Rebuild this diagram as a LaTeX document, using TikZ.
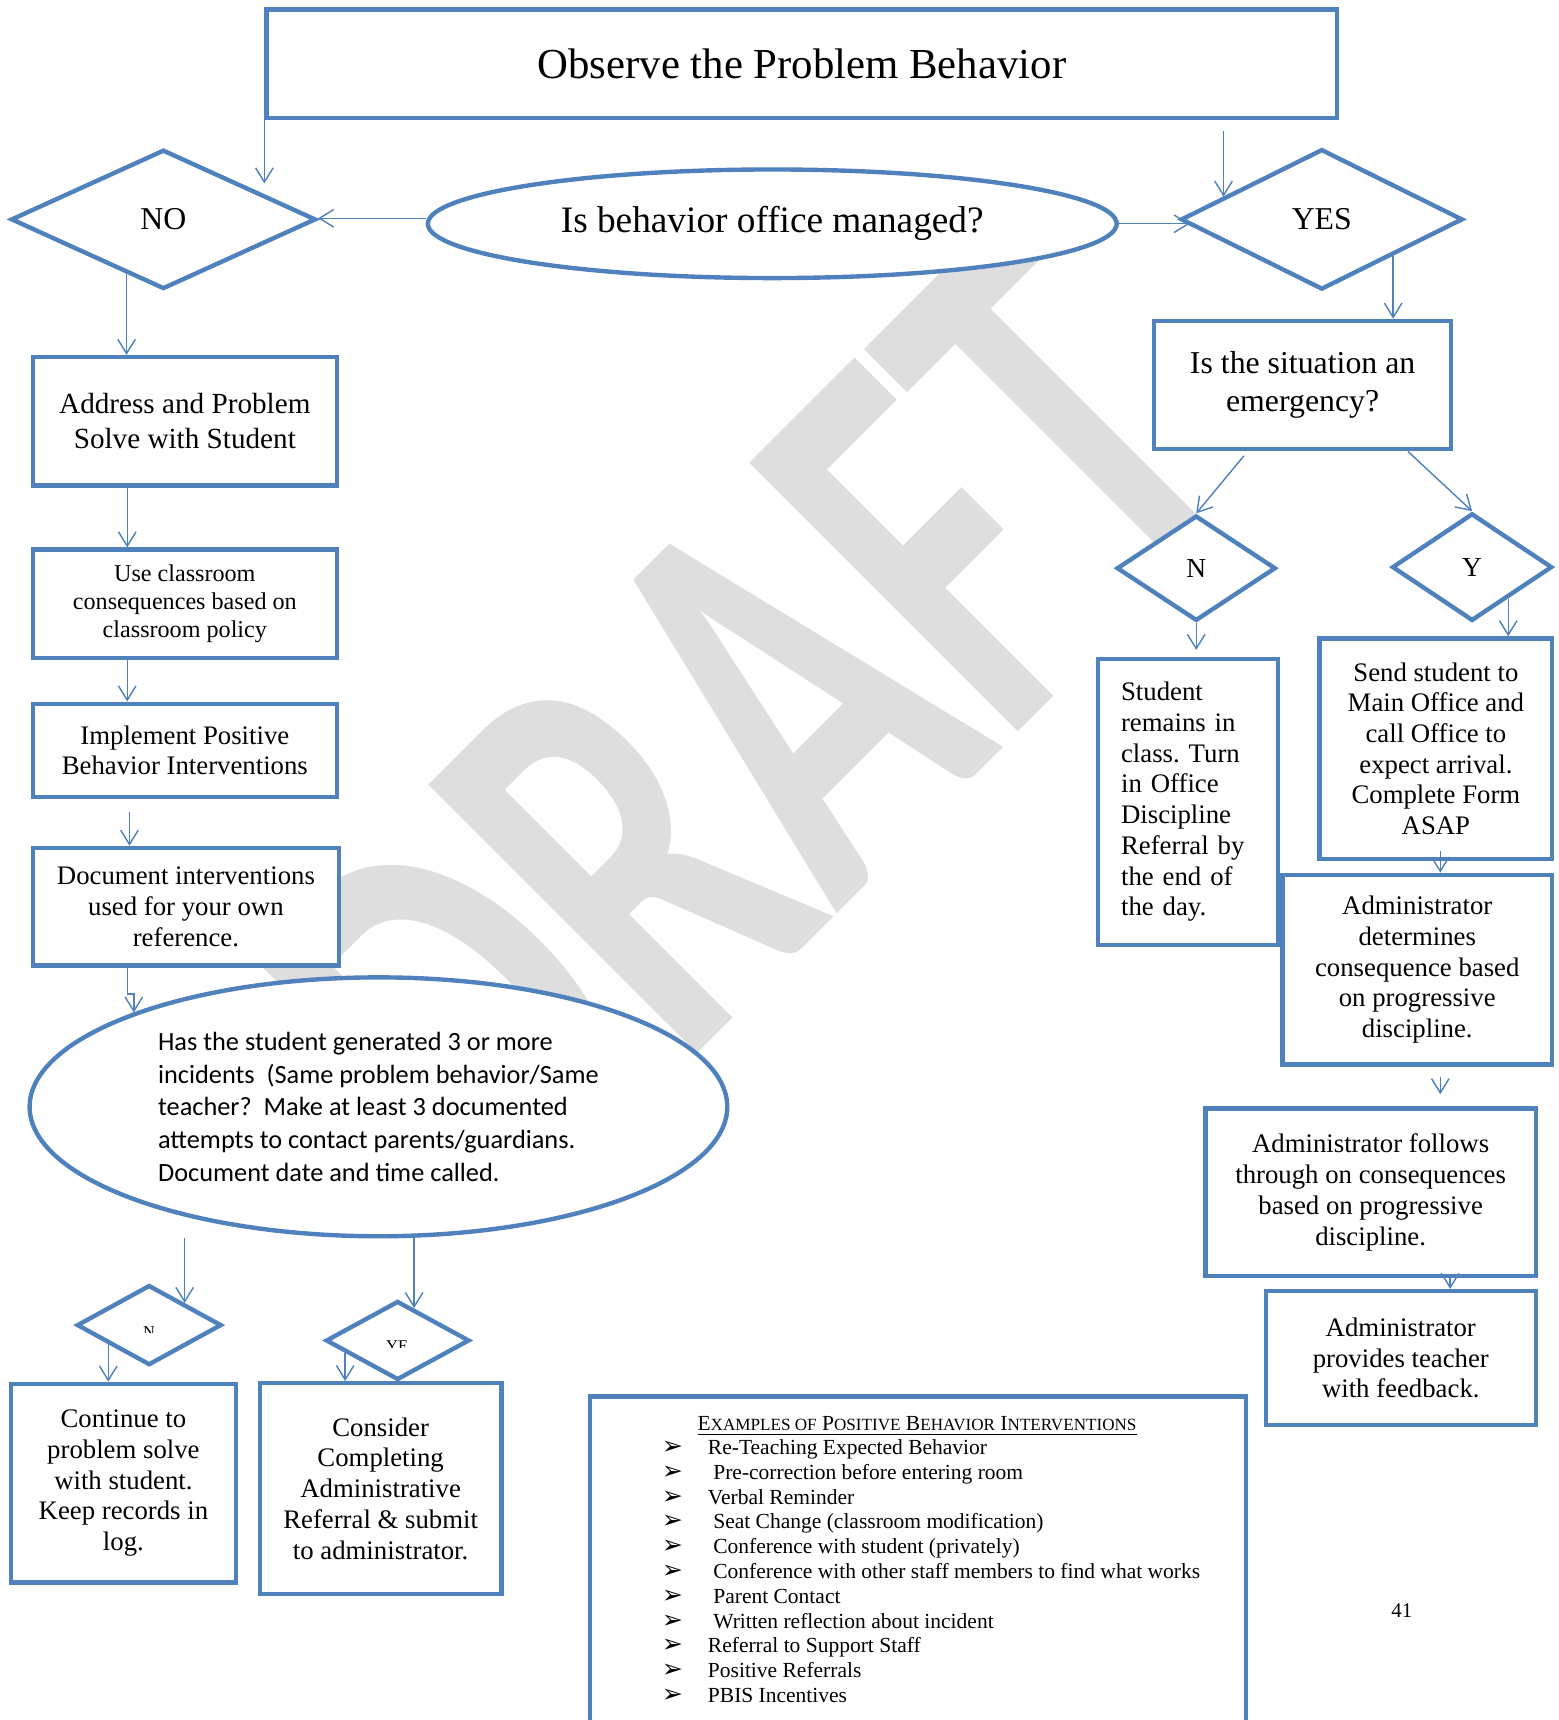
\documentclass[tikz,border=0pt]{standalone}
\usepackage{fontspec}
\setmainfont{Liberation Serif}
\newfontfamily\calfont{Carlito}
\newfontfamily\symfont{DejaVu Sans}
\usetikzlibrary{shapes.geometric,arrows.meta,calc}
\definecolor{flowblue}{RGB}{79,129,189}
\definecolor{wmgray}{RGB}{222,222,222}
\newcommand{\setfs}[2]{\fontsize{#1}{#2}\selectfont}
\newcommand{\smc}[1]{{\fontsize{7.8}{9}\selectfont #1}}
\newcommand{\bul}{\makebox[21pt][l]{\symfont\fontsize{11.5}{9}\selectfont ➢}}
\frenchspacing

\begin{document}
\begin{tikzpicture}[x=0.5pt, y=-0.5pt,
  box/.style={draw=flowblue, line width=2pt, fill=white, align=center, inner sep=2pt},
  dia/.style={diamond, draw=flowblue, line width=2pt, fill=white, inner sep=0pt},
  oval/.style={ellipse, draw=flowblue, line width=2pt, fill=white, inner sep=0pt},
  arr/.style={draw=flowblue, line width=0.65pt, -{Straight Barb[length=6.5pt,width=8pt]}},
  wmark/.style={anchor=base west, inner sep=0pt, text=wmgray, font=\calfont\bfseries\setfs{178}{178}, rotate=45, yscale=1.5}]
            \path[use as bounding box] (0,0) rectangle (1421,1568);
            \clip (0,0) rectangle (1421,1568);

            \node[wmark] (draft) at (462,1134) {DRAFT};

            \node[box, minimum width=488pt, minimum height=49.5pt, font=\setfs{19.5}{23}] (title) at (731,58) {Observe the Problem Behavior};
            \node[dia, minimum width=139pt, minimum height=63.5pt, font=\setfs{14.5}{17}] (no) at (149,200) {NO};
            \node[oval, minimum width=314pt, minimum height=49.5pt, font=\setfs{17}{20}] (mgd) at (704,204) {Is behavior office managed?};
            \node[dia, minimum width=128.5pt, minimum height=64pt, font=\setfs{14.5}{17}] (yes) at (1205,200) {YES};

            \node[box, minimum width=138.5pt, minimum height=58.5pt, font=\setfs{13.3}{16}] (addr) at (168.5,384) {Address and Problem\\Solve with Student};
            \node[box, minimum width=138.5pt, minimum height=49.5pt, font=\setfs{11}{12.7}] (useclass) at (168.5,550.5) {Use classroom\\consequences based on\\classroom policy};
            \node[box, minimum width=138.5pt, minimum height=42.5pt, font=\setfs{12.2}{14}] (impl) at (168.5,684) {Implement Positive\\Behavior Interventions};
            \node[box, minimum width=139.5pt, minimum height=53.5pt, font=\setfs{12.2}{14}] (doc) at (169.5,826.5) {Document interventions\\used for your own\\reference.};
            \node[oval, minimum width=318pt, minimum height=118pt, align=left, font=\calfont\setfs{12}{14.85}] (inc) at (345,1009) {Has the student generated 3 or more\\incidents\ \ (Same problem behavior/Same\\teacher?\ \ Make at least 3 documented\\attempts to contact parents/guardians.\\Document date and time called.};

            \node[dia, minimum width=66pt, minimum height=36.5pt] (n1) at (136,1208) {};
            \node[dia, minimum width=65.5pt, minimum height=36pt] (ye) at (362.5,1222) {};
            \begin{scope}
            \clip (n1.west) rectangle ($(n1.east)+(0,7)$);
            \node[anchor=base, inner sep=0pt, font=\setfs{7.5}{9}] (n1lbl) at (136,1219) {N};
            \end{scope}
            \begin{scope}
            \clip (ye.west) rectangle ($(ye.east)+(0,6)$);
            \node[anchor=base, inner sep=0pt, font=\setfs{7.5}{9}] (yelbl) at (362,1232) {YE};
            \end{scope}
            \node[box, minimum width=102.5pt, minimum height=90.5pt, font=\setfs{12.2}{14}] (cont) at (112.5,1352) {Continue to\\problem solve\\with student.\\Keep records in\\log.};
            \node[box, minimum width=110pt, minimum height=96pt, font=\setfs{12.2}{14}] (cons) at (347,1357) {Consider\\Completing\\Administrative\\Referral \& submit\\to administrator.};

            \node[draw=flowblue, line width=2pt, minimum width=299pt, minimum height=180pt] (exbox) at (837,1453) {};
            \node[inner sep=0pt, font=\setfs{9.8}{11.3}] (extitle) at (836,1300) {\underline{E\smc{XAMPLES OF} P\smc{OSITIVE} B\smc{EHAVIOR} I\smc{NTERVENTIONS}}};
            \node[align=left, anchor=north west, inner sep=0pt, font=\setfs{9.8}{11.3}] (exlist) at (603,1312) {\bul Re-Teaching Expected Behavior\\
              \bul\ Pre-correction before entering room\\
              \bul Verbal Reminder\\
              \bul\ Seat Change (classroom modification)\\
              \bul\ Conference with student (privately)\\
              \bul\ Conference with other staff members to find what works\\
              \bul\ Parent Contact\\
              \bul\ Written reflection about incident\\
              \bul Referral to Support Staff\\
              \bul Positive Referrals\\
              \bul PBIS Incentives};
            \node[font=\setfs{9.5}{11}] (pgnum) at (1278,1468) {41};

            \node[box, minimum width=135.5pt, minimum height=58.5pt, font=\setfs{14.5}{17}] (emerg) at (1187.5,351) {Is the situation an\\emergency?};
            \node[dia, minimum width=72.5pt, minimum height=48pt, font=\setfs{12.5}{15}] (ndia) at (1090.5,518) {N};
            \node[dia, minimum width=73pt, minimum height=49pt, font=\setfs{12.5}{15}] (ydia) at (1342,517) {Y};
            \node[box, minimum width=82pt, minimum height=130.5pt, text width=61pt, align=left, font=\setfs{12.2}{14}] (student) at (1083,731) {Student\\remains in\\class. Turn\\in Office\\Discipline\\Referral by\\the end of\\the day.};
            \node[box, minimum width=106pt, minimum height=100.5pt, font=\setfs{12.2}{14}] (send) at (1309,682.5) {Send student to\\Main Office and\\call Office to\\expect arrival.\\Complete Form\\ASAP};
            \node[box, minimum width=123pt, minimum height=86.5pt, font=\setfs{12.2}{14}] (det) at (1292,884) {Administrator\\determines\\consequence based\\on progressive\\discipline.};
            \node[box, minimum width=150.5pt, minimum height=76.5pt, font=\setfs{12.2}{14}] (fol) at (1249.5,1087) {Administrator follows\\through on consequences\\based on progressive\\discipline.};
            \node[box, minimum width=123pt, minimum height=61pt, font=\setfs{12.2}{14}] (prov) at (1277,1238) {Administrator\\provides teacher\\with feedback.};

            \draw[arr] (title.south west) -- (title.south west |- no.north east);
            \draw[arr] ($(yes.167 |- title.south)+(0,10)$) -- (yes.167);
            \draw[arr] ($(mgd.west)+(0,-5)$) -- ($(mgd.west -| no.east)+(0,-5)$);
            \draw[arr] (mgd.east) -- ($(mgd.east -| yes.west)+(10,0)$);
            \draw[arr] (no.236) -- (no.236 |- addr.north);
            \draw[arr] ([xshift=-26.25pt]addr.south) -- ([xshift=-26.25pt]useclass.north);
            \draw[arr] ([xshift=-26.25pt]useclass.south) -- ([xshift=-26.25pt]impl.north);
            \draw[arr] ([xshift=-25.25pt,yshift=-6pt]impl.south) -- ([xshift=-25.75pt]doc.north);
            \draw[arr] ([xshift=-26.75pt]doc.south) -- ++(0,24) -- ++(6,0) -- ++(0,17);
            \draw[arr] (n1.32 |- inc.south) -- (n1.32);
            \draw[arr] (n1.205) -- (n1.205 |- cont.north);
            \draw[arr] (ye.63 |- inc.south) -- (ye.63);
            \draw[arr] (ye.193) -- (ye.193 |- cons.north);
            \draw[arr] (yes.333) -- (yes.333 |- emerg.north);
            \draw[arr] ([xshift=-26.75pt,yshift=-2pt]emerg.south) -- (ndia.north);
            \draw[arr] ([xshift=48pt]emerg.south) -- (ydia.north);
            \draw[arr] (ndia.south) -- ($(ndia.south |- student.north)+(0,-6)$);
            \draw[arr] (ydia.319) -- (ydia.319 |- send.north);
            \draw[arr] ($(send.south)+(4,-9)$) -- ($(send.south |- det.north)+(4,0)$);
            \draw[arr] ($(det.south)+(21,9)$) -- ($(det.south |- fol.north)+(21,-11)$);
            \draw[arr] ($(fol.south)+(72.5,-2)$) -- ($(fol.south |- prov.north)+(72.5,0)$);
        \end{tikzpicture}
\end{document}
